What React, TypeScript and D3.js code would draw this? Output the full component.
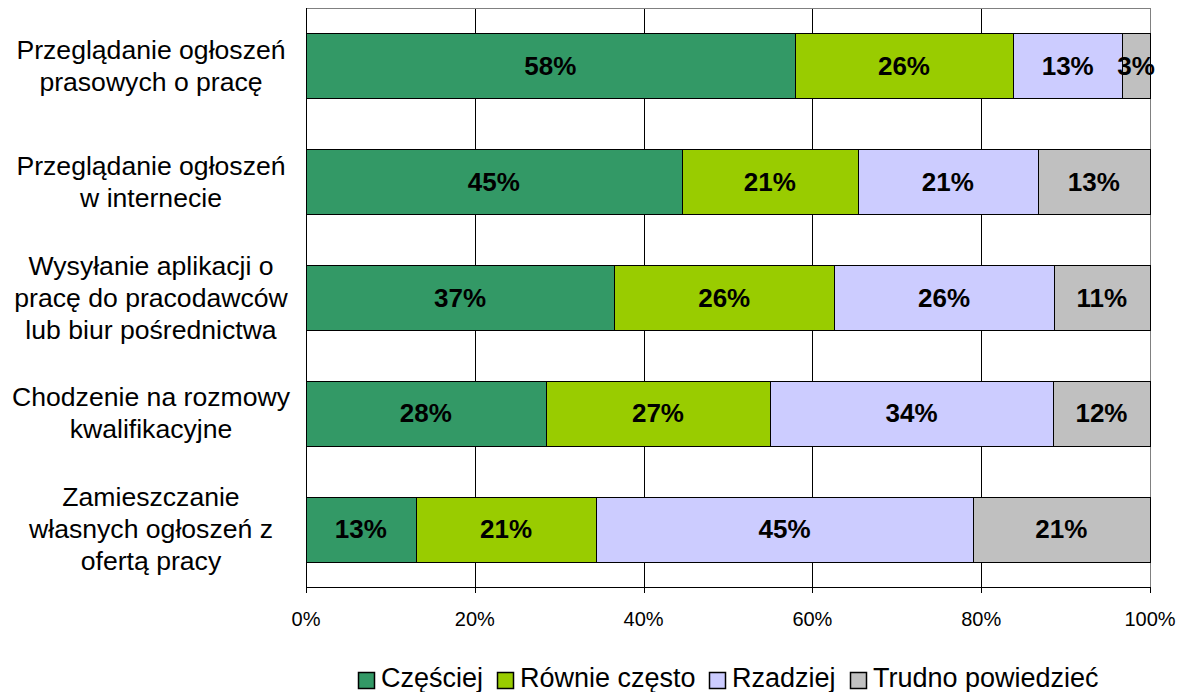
import React, { useEffect, useRef } from "react";
import * as d3 from "d3";

const categories: string[][] = [
  ["Przeglądanie ogłoszeń", "prasowych o pracę"],
  ["Przeglądanie ogłoszeń", "w internecie"],
  ["Wysyłanie aplikacji o", "pracę do pracodawców", "lub biur pośrednictwa"],
  ["Chodzenie na rozmowy", "kwalifikacyjne"],
  ["Zamieszczanie", "własnych ogłoszeń z", "ofertą pracy"],
];

const seriesNames = ["Częściej", "Równie często", "Rzadziej", "Trudno powiedzieć"];

const czesciej = [57.9, 44.5, 36.5, 28.4, 13.0];
const rownieCzesto = [25.9, 20.9, 26.1, 26.6, 21.4];
const rzadziej = [12.9, 21.3, 26.0, 33.5, 44.6];
const trudnoPowiedziec = [3.3, 13.3, 11.4, 11.5, 21.0];

const xTicks = [0, 20, 40, 60, 80, 100];

const colors = ["#339966", "#99CC00", "#CCCCFF", "#C0C0C0"];

const FONT = "'Liberation Sans', Arial, Helvetica, sans-serif";

export default function App() {
  const ref = useRef<SVGSVGElement>(null);

  useEffect(() => {
    const svg = d3.select(ref.current as SVGSVGElement);
    svg.selectAll("*").remove();

    const plot = { left: 306, right: 1150, top: 8, bottom: 587 };

    const x = d3.scaleLinear().domain([0, 100]).range([plot.left, plot.right]);
    const y = d3
      .scaleBand<string>()
      .domain(categories.map((_, i) => String(i)))
      .range([plot.top, plot.bottom])
      .paddingInner(0.44)
      .paddingOuter(0.22);

    const px = (v: number) => Math.round(x(v)) + 0.5;

    svg.append("rect").attr("width", 1187).attr("height", 692).attr("fill", "#fff");

    // gridlines
    svg
      .append("g")
      .selectAll("line")
      .data(xTicks.filter((t) => t > 0 && t < 100))
      .join("line")
      .attr("x1", (d) => px(d))
      .attr("x2", (d) => px(d))
      .attr("y1", plot.top)
      .attr("y2", plot.bottom)
      .attr("stroke", "#000")
      .attr("stroke-width", 1);

    // top and right border (gray)
    svg
      .append("line")
      .attr("x1", plot.left)
      .attr("x2", px(100))
      .attr("y1", plot.top + 0.5)
      .attr("y2", plot.top + 0.5)
      .attr("stroke", "#808080");
    svg
      .append("line")
      .attr("x1", px(100))
      .attr("x2", px(100))
      .attr("y1", plot.top)
      .attr("y2", plot.bottom)
      .attr("stroke", "#808080");

    // stacked data
    const table = categories.map((_, i) => ({
      key: String(i),
      s0: czesciej[i],
      s1: rownieCzesto[i],
      s2: rzadziej[i],
      s3: trudnoPowiedziec[i],
    }));
    const keys = ["s0", "s1", "s2", "s3"];
    const stacked = d3.stack<any>().keys(keys)(table);

    const barH = Math.round(y.bandwidth());

    const layers = svg
      .append("g")
      .selectAll("g")
      .data(stacked)
      .join("g")
      .attr("fill", (_, i) => colors[i]);

    layers
      .selectAll("rect")
      .data((d) => d.map((s) => ({ s, key: (d as any).key })))
      .join("rect")
      .attr("x", (d) => px(d.s[0]))
      .attr("width", (d) => Math.round(x(d.s[1])) - Math.round(x(d.s[0])))
      .attr("y", (d) => Math.round(y(d.s.data.key) as number) + 0.5)
      .attr("height", barH)
      .attr("stroke", "#000")
      .attr("stroke-width", 1);

    // value labels
    layers
      .selectAll("text")
      .data((d) => d.map((s) => ({ s, key: (d as any).key })))
      .join("text")
      .attr("x", (d) => (x(d.s[0]) + x(d.s[1])) / 2)
      .attr("y", (d) => (y(d.s.data.key) as number) + y.bandwidth() / 2 + 9)
      .attr("text-anchor", "middle")
      .attr("font-family", FONT)
      .attr("font-size", 26)
      .attr("font-weight", "bold")
      .attr("fill", "#000")
      .text((d) => `${Math.round(d.s[1] - d.s[0])}%`);

    // axes
    svg
      .append("line")
      .attr("x1", plot.left + 0.5)
      .attr("x2", plot.left + 0.5)
      .attr("y1", plot.top)
      .attr("y2", plot.bottom + 1)
      .attr("stroke", "#000");
    svg
      .append("line")
      .attr("x1", plot.left)
      .attr("x2", px(100) + 0.5)
      .attr("y1", plot.bottom + 0.5)
      .attr("y2", plot.bottom + 0.5)
      .attr("stroke", "#000");

    const ticks = svg.append("g");
    ticks
      .selectAll("line")
      .data(xTicks)
      .join("line")
      .attr("x1", (d) => px(d))
      .attr("x2", (d) => px(d))
      .attr("y1", plot.bottom)
      .attr("y2", plot.bottom + 6)
      .attr("stroke", "#000");
    ticks
      .selectAll("text")
      .data(xTicks)
      .join("text")
      .attr("x", (d) => x(d))
      .attr("y", 626)
      .attr("text-anchor", "middle")
      .attr("font-family", FONT)
      .attr("font-size", 20)
      .attr("fill", "#000")
      .text((d) => `${d}%`);

    // category labels
    const lineH = 32;
    const catG = svg.append("g");
    categories.forEach((lines, i) => {
      const cy = (y(String(i)) as number) + y.bandwidth() / 2;
      const first = cy - ((lines.length - 1) * lineH) / 2 + 9;
      const t = catG
        .append("text")
        .attr("font-family", FONT)
        .attr("font-size", 26.6)
        .attr("fill", "#000")
        .attr("text-anchor", "middle");
      lines.forEach((ln, j) => {
        t.append("tspan")
          .attr("x", 151)
          .attr("y", first + j * lineH)
          .text(ln);
      });
    });

    // legend
    const leg = svg.append("g");
    const items = seriesNames.map((name, i) => {
      const g = leg.append("g");
      g.append("rect")
        .attr("x", 0.5)
        .attr("y", 672.5)
        .attr("width", 16)
        .attr("height", 16)
        .attr("fill", colors[i])
        .attr("stroke", "#000")
        .attr("stroke-width", 1.5);
      const t = g
        .append("text")
        .attr("x", 23)
        .attr("y", 687)
        .attr("font-family", FONT)
        .attr("font-size", 27)
        .attr("fill", "#000")
        .text(name);
      const w = (t.node() as SVGTextElement).getComputedTextLength();
      return { g, w: 23 + w };
    });
    const gap = 14;
    const total = items.reduce((a, it) => a + it.w, 0) + gap * (items.length - 1);
    let cx = (plot.left + plot.right) / 2 - total / 2;
    items.forEach((it) => {
      it.g.attr("transform", `translate(${Math.round(cx)},0)`);
      cx += it.w + gap;
    });
  }, []);

  return (
    <svg
      ref={ref}
      width={1187}
      height={692}
      style={{ position: "absolute", left: 0, top: 0, display: "block" }}
    />
  );
}
